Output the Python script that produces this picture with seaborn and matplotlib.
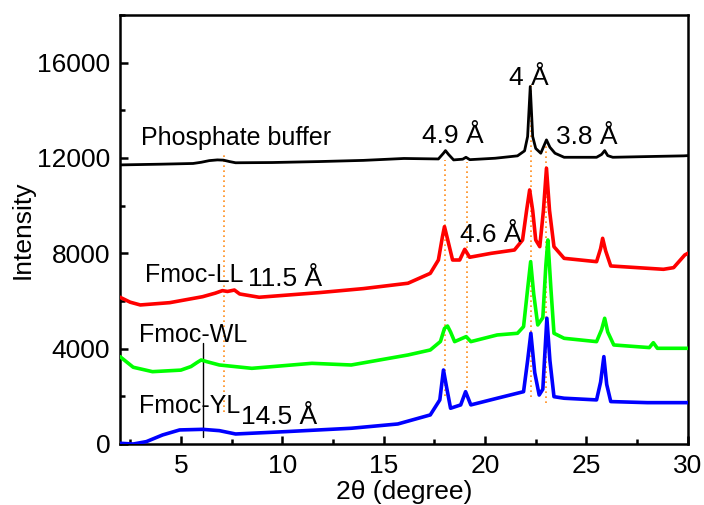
import matplotlib
matplotlib.use("Agg")
import matplotlib.pyplot as plt
from matplotlib.ticker import MultipleLocator
import numpy as np
import pandas as pd
import seaborn as sns

# XRD patterns: 2-theta (degree) vs. intensity, curves offset vertically
buffer_x = [2, 4, 5.6, 6.0, 6.4, 6.8, 7.1, 7.4, 7.7, 9.5, 11.8, 14, 16, 17.7, 17.95, 18.05,
            18.2, 18.45, 18.9, 19.06, 19.25, 20.5, 21.6, 21.95, 22.1, 22.23, 22.35, 22.5,
            22.75, 22.9, 23.03, 23.2, 23.45, 23.9, 25.5, 25.75, 25.9, 26.05, 26.3, 28,
            29.8, 30]
buffer_y = [11710, 11740, 11770, 11820, 11890, 11920, 11910, 11850, 11800, 11810, 11850,
            11900, 11980, 11960, 12200, 12310, 12150, 11920, 11950, 12030, 11930, 11990,
            12090, 12300, 12900, 15000, 12900, 12400, 12200, 12500, 12760, 12450, 12200,
            12030, 12030, 12150, 12310, 12100, 12030, 12060, 12090, 12100]

ll_x = [2, 2.5, 3.0, 4.45, 6.07, 6.7, 7.05, 7.3, 7.64, 7.9, 8.86, 11.8, 14, 16.2, 17.3,
        17.7, 17.9, 18.0, 18.15, 18.4, 18.75, 19.0, 19.24, 20.3, 21.45, 21.85, 22.05,
        22.2, 22.35, 22.5, 22.7, 22.88, 23.03, 23.18, 23.4, 23.9, 25.5, 25.7, 25.8,
        25.95, 26.2, 28.8, 29.3, 29.85, 30]
ll_y = [6157, 5950, 5834, 5930, 6180, 6330, 6435, 6400, 6460, 6295, 6157, 6350, 6520,
        6745, 7160, 7720, 8700, 9120, 8600, 7720, 7720, 8170, 7835, 8000, 8140, 8560,
        9800, 10660, 9800, 8560, 8280, 9800, 11570, 9800, 8280, 7790, 7650, 8200, 8630,
        8100, 7470, 7330, 7400, 7930, 8000]

wl_x = [2, 2.65, 3.6, 5.0, 5.5, 5.8, 6.0, 6.3, 6.9, 8.5, 11.46, 13.4, 16.2, 17.3, 17.8,
        18.0, 18.15, 18.3, 18.5, 19.07, 19.3, 20.6, 21.6, 21.9, 22.1, 22.25, 22.4, 22.6,
        22.85, 23.0, 23.1, 23.25, 23.4, 23.9, 25.5, 25.75, 25.9, 26.05, 26.35, 28.1,
        28.3, 28.5, 30]
wl_y = [3665, 3220, 3035, 3100, 3250, 3420, 3525, 3450, 3315, 3175, 3385, 3315, 3735,
        3945, 4300, 4850, 4950, 4700, 4295, 4505, 4295, 4575, 4645, 4925, 6500, 7650,
        6300, 4995, 5300, 7500, 8560, 6500, 4645, 4435, 4295, 4800, 5275, 4700, 4155,
        4045, 4250, 4015, 4015]

yl_x = [2, 2.65, 3.3, 4.1, 4.94, 6.07, 6.9, 7.7, 10.2, 13.4, 15.7, 17.3, 17.77, 17.95,
        18.1, 18.3, 18.8, 19.04, 19.3, 20.6, 21.9, 22.1, 22.26, 22.45, 22.67, 22.85,
        23.05, 23.2, 23.4, 23.9, 25.5, 25.7, 25.86, 26.0, 26.2, 28, 30]
yl_y = [30, 0, 100, 380, 590, 615, 560, 420, 520, 660, 840, 1220, 1850, 3105, 2400, 1500,
        1640, 2195, 1640, 1920, 2195, 3500, 4645, 3000, 2055, 2300, 5275, 3500, 1985,
        1920, 1850, 2600, 3665, 2500, 1780, 1735, 1735]

sample_names = ["Phosphate buffer", "Fmoc-LL", "Fmoc-WL", "Fmoc-YL"]
sample_colors = ["black", "#ff0000", "#00ff00", "#0000ff"]

# d-spacing guide lines (2-theta, bottom, top)
guide_x = [7.15, 18.03, 19.12, 22.26, 23.03]
guide_lo = [1355, 2000, 2350, 1985, 1710]
guide_hi = [12270, 11900, 11850, 15070, 12830]

frames = []
for name, xs, ys in zip(sample_names, [buffer_x, ll_x, wl_x, yl_x],
                        [buffer_y, ll_y, wl_y, yl_y]):
    frames.append(pd.DataFrame({"two_theta": xs, "intensity": ys, "sample": name}))
df = pd.concat(frames, ignore_index=True)

sns.set_style("ticks")
plt.rcParams["font.family"] = ["Liberation Sans", "DejaVu Sans"]
plt.rcParams["text.color"] = "black"
plt.rcParams["axes.labelcolor"] = "black"
plt.rcParams["xtick.color"] = "black"
plt.rcParams["ytick.color"] = "black"

fig = plt.figure(figsize=(7.04, 5.05), dpi=100)
ax = fig.add_axes([0.1705, 0.1208, 0.8065, 0.8495])

# dotted guides first so the curves sit on top
for gx, lo, hi in zip(guide_x, guide_lo, guide_hi):
    ax.plot([gx, gx], [lo, hi], color="#ff8c1a", linestyle=(0, (1, 2)), lw=1.2, zorder=1)
ax.plot([6.08, 6.08], [305, 4225], color="black", lw=1.0, zorder=1)

lw_map = {"Phosphate buffer": 2.0, "Fmoc-LL": 2.6, "Fmoc-WL": 2.6, "Fmoc-YL": 2.6}
for name, col in zip(sample_names, sample_colors):
    sns.lineplot(data=df[df["sample"] == name], x="two_theta", y="intensity",
                 color=col, lw=lw_map[name], sort=False, estimator=None, ax=ax,
                 legend=False, zorder=3)

ax.set_xlim(2, 30)
ax.set_ylim(0, 18000)
ax.xaxis.set_major_locator(MultipleLocator(5))
ax.xaxis.set_minor_locator(MultipleLocator(2.5))
ax.yaxis.set_major_locator(MultipleLocator(4000))
ax.yaxis.set_minor_locator(MultipleLocator(2000))
ax.tick_params(which="both", direction="in", top=False, right=False, width=1.8,
               labelsize=19, pad=7, color="black", labelcolor="black")
ax.tick_params(which="major", length=6)
ax.tick_params(which="minor", length=3.6)
for sp in ax.spines.values():
    sp.set_linewidth(1.8)
    sp.set_color("black")
    sp.set_visible(True)

ax.set_xlabel("2θ (degree)", fontsize=19, color="black")
ax.set_ylabel("Intensity", fontsize=19, color="black")
ax.xaxis.set_label_coords(0.5, -0.085)
ax.yaxis.set_label_coords(-0.15, 0.5)

name_pos = [(3.03, 12549), (3.23, 6812), (2.93, 4268), (2.93, 1288)]
for name, (tx, ty) in zip(sample_names, name_pos):
    ax.text(tx, ty, name, fontsize=18, ha="left", va="baseline", color="black", zorder=4)

spacing_labels = ["11.5 Å", "14.5 Å", "4 Å", "4.9 Å", "3.8 Å", "4.6 Å"]
spacing_pos = [(8.29, 6631), (7.97, 839), (21.2, 15067), (16.9, 12645), (23.5, 12591),
               (18.78, 8490)]
for lab, (tx, ty) in zip(spacing_labels, spacing_pos):
    ax.text(tx, ty, lab, fontsize=19, ha="left", va="baseline", color="black", zorder=4)

fig.savefig("out.png", dpi=100)
